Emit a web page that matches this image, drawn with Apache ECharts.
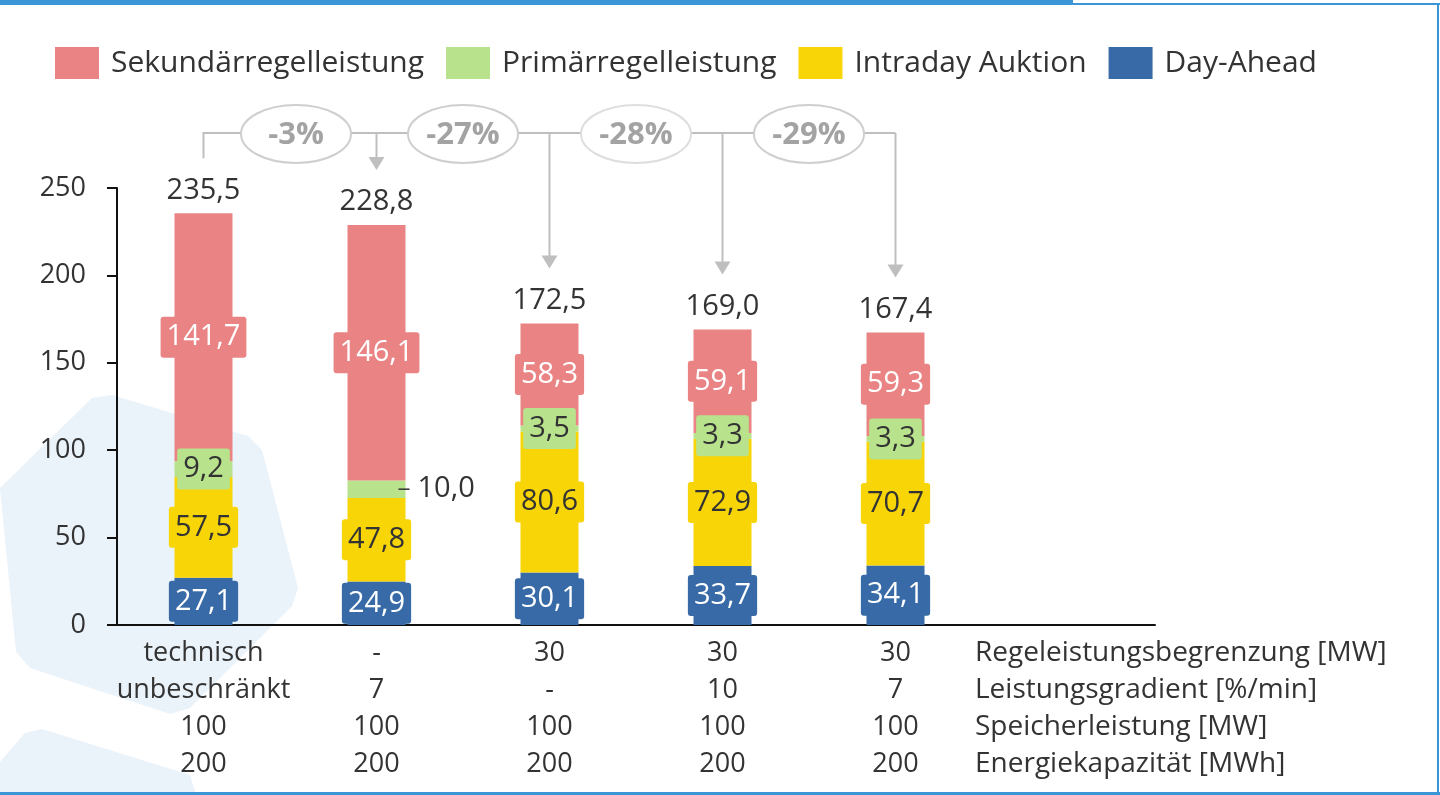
<!DOCTYPE html>
<html>
<head>
<meta charset="utf-8">
<script src="https://cdn.jsdelivr.net/npm/echarts@6/dist/echarts.min.js"></script>
<style>
  html, body { margin: 0; padding: 0; background: #fff; }
  #chart { width: 1440px; height: 795px; }
</style>
</head>
<body>
<div id="chart"></div>
<script>
// Zeilen unter der x-Achse (letzte Spalte bleibt leer, dort steht die Kopfspalte)
const rowRegel = ['technisch', '-', '30', '30', '30', '']
const rowGradient = ['unbeschränkt', '7', '-', '10', '7', '']
const rowSpeicher = ['100', '100', '100', '100', '100', '']
const rowKapazitaet = ['200', '200', '200', '200', '200', '']
const rowHeaders = ['Regeleistungsbegrenzung [MW]', 'Leistungsgradient [%/min]', 'Speicherleistung [MW]', 'Energiekapazität [MWh]']

// Erlöse je Markt
const dayAhead = [27.1, 24.9, 30.1, 33.7, 34.1]
const intraday = [57.5, 47.8, 80.6, 72.9, 70.7]
const primaer = [9.2, 10.0, 3.5, 3.3, 3.3]
const sekundaer = [141.7, 146.1, 58.3, 59.1, 59.3]
const totals = [235.5, 228.8, 172.5, 169.0, 167.4]
const changes = ['-3%', '-27%', '-28%', '-29%']

const yTicks = { min: 0, max: 250, interval: 50 }

const FONT = '"Open Sans", sans-serif'
const TEXT = '#333333'
const COLORS = {
    sek: '#ea8484',
    prim: '#b9e28c',
    intra: '#f7d507',
    day: '#376aa6'
}
const GREY = '#bfbfbf'
const FRAME = '#3a96d6'

const fmt = v => Number(v).toFixed(1).replace('.', ',')

const categories = rowRegel.map((r, i) => [r, rowGradient[i], rowSpeicher[i], rowKapazitaet[i]].join('\n'))

const segLabel = (bg, color) => ({
    show: true,
    position: 'inside',
    formatter: p => fmt(p.value),
    color: color,
    fontFamily: FONT,
    fontSize: 29,
    lineHeight: 35,
    backgroundColor: bg,
    padding: [3, 6],
    borderRadius: 3
})

const barSeries = (name, data, color, labelColor) => ({
    name: name,
    type: 'bar',
    stack: 'total',
    barWidth: 58,
    data: data,
    itemStyle: { color: color },
    label: segLabel(color, labelColor),
    silent: true
})

const primData = primaer.map((v, i) => i === 1 ? {
    value: v,
    label: {
        position: 'right',
        distance: -7,
        backgroundColor: 'transparent',
        padding: 0,
        formatter: '{d|}{v|' + fmt(v) + '}',
        rich: {
            d: { width: 11, height: 1.5, backgroundColor: TEXT },
            v: { color: TEXT, fontFamily: FONT, fontSize: 29, padding: [0, 0, 0, 8] }
        }
    }
} : v)

const chart = echarts.init(document.getElementById('chart'))

const option = {
    animation: false,
    backgroundColor: '#ffffff',
    textStyle: { fontFamily: FONT },
    legend: {
        left: 55,
        top: 47,
        padding: 0,
        itemWidth: 44,
        itemHeight: 32,
        itemGap: 22,
        icon: 'rect',
        data: ['Sekundärregelleistung', 'Primärregelleistung', 'Intraday Auktion', 'Day-Ahead'],
        textStyle: { fontSize: 30, color: TEXT, fontFamily: FONT, padding: [0, 0, 0, 7] }
    },
    grid: { left: 117, right: 285, top: 188, bottom: 170, containLabel: false },
    xAxis: {
        type: 'category',
        data: categories,
        axisLine: { show: true, lineStyle: { color: '#111', width: 2 } },
        axisTick: { show: false },
        axisLabel: {
            color: TEXT,
            fontSize: 27,
            lineHeight: 37,
            margin: 10,
            fontFamily: FONT,
            interval: 0
        }
    },
    yAxis: {
        type: 'value',
        min: yTicks.min,
        max: yTicks.max,
        interval: yTicks.interval,
        splitLine: { show: false },
        axisLine: { show: true, lineStyle: { color: '#111', width: 2 } },
        axisTick: { show: true, length: 10, lineStyle: { color: '#111', width: 2 } },
        axisLabel: { color: TEXT, fontSize: 27, margin: 31, fontFamily: FONT }
    },
    series: [
        barSeries('Day-Ahead', dayAhead, COLORS.day, '#ffffff'),
        barSeries('Intraday Auktion', intraday, COLORS.intra, TEXT),
        Object.assign(barSeries('Primärregelleistung', primaer, COLORS.prim, TEXT), { data: primData }),
        barSeries('Sekundärregelleistung', sekundaer, COLORS.sek, '#ffffff'),
        {
            name: 'Summe',
            type: 'scatter',
            data: totals,
            symbolSize: 1,
            itemStyle: { color: 'rgba(0,0,0,0)', opacity: 1 },
            silent: true,
            label: {
                show: true,
                position: 'top',
                distance: 8,
                formatter: p => fmt(p.value),
                color: TEXT,
                opacity: 1,
                fontSize: 29,
                fontFamily: FONT
            }
        }
    ]
}

chart.setOption(option)

// Rahmen, Hintergrundformen, Kopfspalte und Veränderungs-Pfeile
const toPx = (i, v) => chart.convertToPixel({ xAxisIndex: 0, yAxisIndex: 0 }, [i, v])

const graphics = []

// dekorative Flächen
graphics.push({
    type: 'polygon', z: -10, silent: true,
    shape: { points: [[0, 488], [92, 398], [112, 395], [248, 436], [262, 450], [298, 588], [292, 606], [190, 708], [170, 714], [30, 668], [16, 652]] },
    style: { fill: '#eaf2fa' }
})
graphics.push({
    type: 'polygon', z: -10, silent: true,
    shape: { points: [[0, 762], [25, 733], [42, 729], [190, 775], [196, 795], [0, 795]] },
    style: { fill: '#eaf2fa' }
})

// Rahmen
graphics.push({ type: 'rect', z: 10, silent: true, shape: { x: 0, y: 0, width: 1073, height: 5 }, style: { fill: FRAME } })
graphics.push({ type: 'rect', z: 10, silent: true, shape: { x: 1073, y: 3, width: 367, height: 2 }, style: { fill: FRAME } })
graphics.push({ type: 'rect', z: 10, silent: true, shape: { x: 1437, y: 3, width: 2, height: 792 }, style: { fill: FRAME } })
graphics.push({ type: 'rect', z: 10, silent: true, shape: { x: 0, y: 792, width: 1440, height: 3 }, style: { fill: FRAME } })

// Kopfspalte
const origin = toPx(0, 0)
graphics.push({
    type: 'text', silent: true,
    x: 975, y: origin[1] + 10,
    style: { text: rowHeaders.join('\n'), fill: TEXT, fontSize: 28, lineHeight: 37, fontFamily: FONT, verticalAlign: 'top' }
})

// Veränderungen gegenüber technisch unbeschränkt
const bracketY = toPx(0, yTicks.max)[1] - 55
const tops = totals.map((t, i) => toPx(i, t))
graphics.push({
    type: 'polyline', silent: true,
    shape: { points: [[tops[0][0], tops[0][1] - 55], [tops[0][0], bracketY], [tops[tops.length - 1][0], bracketY]] },
    style: { stroke: GREY, lineWidth: 2, fill: null }
})
tops.slice(1).forEach(p => {
    const tipY = p[1] - 55
    graphics.push({
        type: 'line', silent: true,
        shape: { x1: p[0], y1: bracketY, x2: p[0], y2: tipY - 10 },
        style: { stroke: GREY, lineWidth: 2 }
    })
    graphics.push({
        type: 'polygon', silent: true,
        shape: { points: [[p[0] - 8, tipY - 13], [p[0] + 8, tipY - 13], [p[0], tipY]] },
        style: { fill: GREY }
    })
})
changes.forEach((c, i) => {
    const cx = (tops[i][0] + tops[i + 1][0]) / 2 + (i === 0 ? 6 : 0)
    graphics.push({
        type: 'ellipse', silent: true, z: 2,
        shape: { cx: cx, cy: bracketY + 1, rx: 55, ry: 29 },
        style: { fill: '#ffffff', stroke: i === 2 ? '#dedede' : '#cfcfcf', lineWidth: 2 }
    })
    graphics.push({
        type: 'text', silent: true, z: 3,
        x: cx, y: bracketY + 2,
        style: { text: c, fill: '#a3a3a3', fontSize: 31, fontWeight: 'bold', fontFamily: FONT, align: 'center', verticalAlign: 'middle' }
    })
})

chart.setOption({ graphic: { elements: graphics } })
</script>
</body>
</html>
